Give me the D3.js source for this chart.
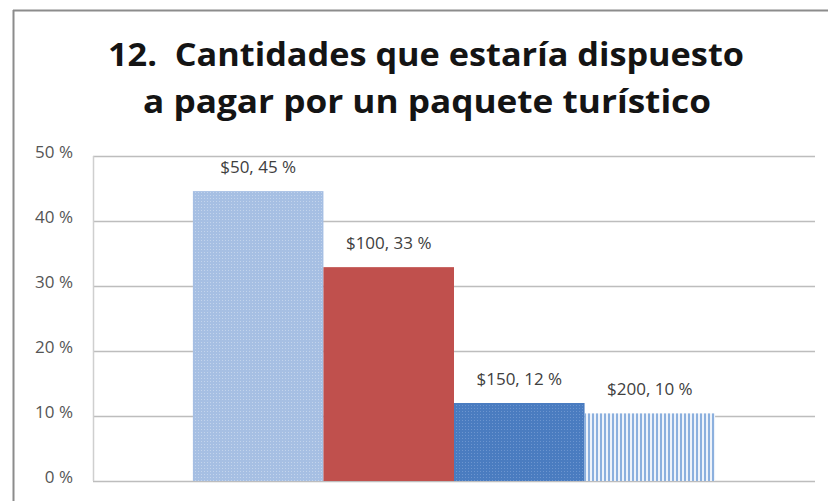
<!DOCTYPE html>
<html><head><meta charset="utf-8">
<script src="https://cdn.jsdelivr.net/npm/d3@7"></script>
<style>body{margin:0;background:#fff}svg{display:block}</style>
</head><body>
<svg id="c" width="828" height="501"></svg>
<script>
const titleLines = ["12.\u00a0 Cantidades que estaría dispuesto", "a pagar por un paquete turístico"];
const categories = ["$50", "$100", "$150", "$200"];
const values = [44.6, 32.9, 12.0, 10.4];
const yTicks = [0, 10, 20, 30, 40, 50];

const svg = d3.select("#c");
const W = 828, H = 501;
const plot = {left: 93, right: 815, top: 156, bottom: 481};

const defs = svg.append("defs");
const p1 = defs.append("pattern").attr("id","p1").attr("width",3).attr("height",3).attr("patternUnits","userSpaceOnUse");
p1.append("rect").attr("width",3).attr("height",3).attr("fill","#a6bfe3");
p1.append("rect").attr("width",1).attr("height",1).attr("fill","#c3d4ec");
const p3 = defs.append("pattern").attr("id","p3").attr("width",3).attr("height",3).attr("patternUnits","userSpaceOnUse");
p3.append("rect").attr("width",3).attr("height",3).attr("fill","#4a7cc0");
p3.append("rect").attr("width",1).attr("height",1).attr("fill","#6c95cf");
const p4 = defs.append("pattern").attr("id","p4").attr("width",4).attr("height",4).attr("patternUnits","userSpaceOnUse");
p4.append("rect").attr("width",4).attr("height",4).attr("fill","#eef3fa");
p4.append("rect").attr("width",2).attr("height",4).attr("fill","#8cb0de");
const fills = ["url(#p1)", "#c0504d", "url(#p3)", "url(#p4)"];

svg.append("line").attr("x1",13).attr("x2",W).attr("y1",10.5).attr("y2",10.5).attr("stroke","#8c8c8c").attr("stroke-width",2);
svg.append("line").attr("x1",13.5).attr("x2",13.5).attr("y1",10).attr("y2",H).attr("stroke","#8c8c8c").attr("stroke-width",2);

svg.append("text").attr("x",426).attr("y",66).attr("text-anchor","middle")
  .attr("font-family","Open Sans, sans-serif").attr("font-weight","bold").attr("font-size",33)
  .attr("fill","#141414").attr("textLength",636).attr("lengthAdjust","spacingAndGlyphs").text(titleLines[0]);
svg.append("text").attr("x",427).attr("y",113).attr("text-anchor","middle")
  .attr("font-family","Open Sans, sans-serif").attr("font-weight","bold").attr("font-size",33)
  .attr("fill","#141414").attr("textLength",568).attr("lengthAdjust","spacingAndGlyphs").text(titleLines[1]);

const y = d3.scaleLinear().domain([0,50]).range([plot.bottom, plot.top]);
const x = d3.scaleBand().domain(categories).range([plot.left, plot.right]).paddingInner(0).paddingOuter(0.765);

svg.append("g").selectAll("line").data(yTicks).join("line")
  .attr("x1",plot.left).attr("x2",plot.right)
  .attr("y1",d=>Math.round(y(d))+0.5).attr("y2",d=>Math.round(y(d))+0.5)
  .attr("stroke","#bdbdbd").attr("stroke-width",1.5);
svg.append("line").attr("x1",plot.left+0.5).attr("x2",plot.left+0.5).attr("y1",plot.top).attr("y2",plot.bottom)
  .attr("stroke","#cfcfcf").attr("stroke-width",1.5);

const yAxis = d3.axisLeft(y).tickValues(yTicks).tickFormat(d=>d+" %").tickSize(0).tickPadding(0);
const ga = svg.append("g").attr("transform",`translate(73,0)`).call(yAxis);
ga.select(".domain").remove();
ga.selectAll("text").attr("font-family","Open Sans, sans-serif").attr("font-size",17).attr("fill","#555555")
  .attr("dy","0.1em");

svg.append("g").selectAll("rect").data(values).join("rect")
  .attr("x",(d,i)=>x(categories[i])).attr("width",x.bandwidth())
  .attr("y",d=>y(d)).attr("height",d=>plot.bottom-y(d))
  .attr("fill",(d,i)=>fills[i]);

svg.append("g").selectAll("text").data(values).join("text")
  .attr("x",(d,i)=>x(categories[i])+x.bandwidth()/2).attr("y",d=>y(d)-18)
  .attr("text-anchor","middle").attr("font-family","Open Sans, sans-serif").attr("font-size",17).attr("fill","#404040")
  .text((d,i)=>`${categories[i]}, ${Math.round(d)} %`);
</script>
</body></html>
